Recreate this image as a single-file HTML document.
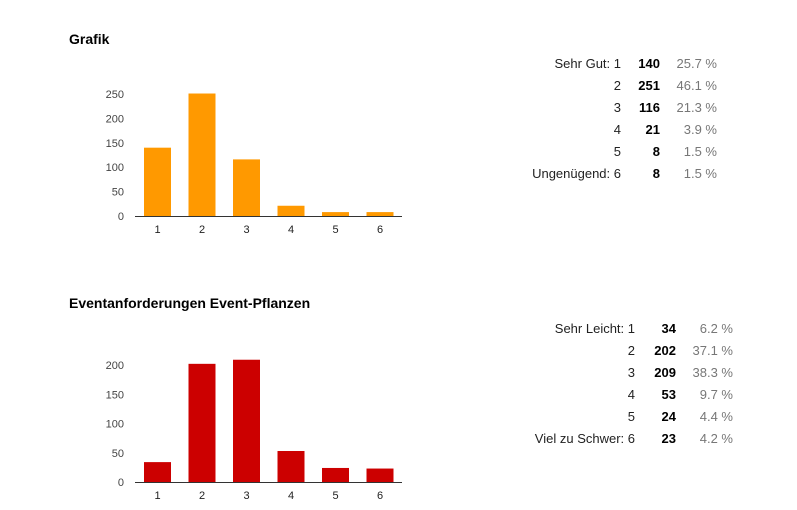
<!DOCTYPE html>
<html><head><meta charset="utf-8">
<style>
body{margin:0;background:#fff;width:797px;height:510px;overflow:hidden;font-family:"Liberation Sans",Arial,sans-serif;}
svg{position:absolute;left:0;top:0}
</style></head>
<body>
<svg id="c" width="797" height="510" xmlns="http://www.w3.org/2000/svg"></svg>
<script>
const categories = ["1","2","3","4","5","6"];
const gradeCounts = [140,251,116,21,8,8];
const gradePercents = ["25.7 %","46.1 %","21.3 %","3.9 %","1.5 %","1.5 %"];
const gradeLabels = ["Sehr Gut: 1","2","3","4","5","Ungenügend: 6"];
const gradeTicks = [0,50,100,150,200,250];
const eventCounts = [34,202,209,53,24,23];
const eventPercents = ["6.2 %","37.1 %","38.3 %","9.7 %","4.4 %","4.2 %"];
const eventLabels = ["Sehr Leicht: 1","2","3","4","5","Viel zu Schwer: 6"];
const eventTicks = [0,50,100,150,200];

const svg = document.getElementById('c');
const NS = 'http://www.w3.org/2000/svg';
function mk(tag, attrs, text){
  const e = document.createElementNS(NS, tag);
  for (const k in attrs) e.setAttribute(k, attrs[k]);
  if (text !== undefined) e.textContent = text;
  svg.appendChild(e);
  return e;
}

function chart(prefix, title, titleY, counts, ticks, baseY, topVal, topY, color, labels, percents, rowY, labelX, countX, pctX){
  const t = mk('text',{x:69,y:titleY,'font-size':14,'font-weight':'bold',fill:'#000'},title);
  
  
  const yScale = v => baseY - v*(baseY-topY)/topVal;
  const xScale = i => 144 + i*44.5;
  ticks.forEach(v=>{
    const tl = mk('text',{x:124,y:yScale(v)+4,'font-size':11,'text-anchor':'end',fill:'#444'},String(v));
    
    
  });
  counts.forEach((v,i)=>{
    const b = mk('rect',{x:xScale(i),y:yScale(v),width:27,height:baseY-yScale(v),fill:color});
    
    
    const xl = mk('text',{x:xScale(i)+13.5,y:baseY+17,'font-size':11,'text-anchor':'middle',fill:'#222'},categories[i]);
    
    
  });
  const ax = mk('line',{x1:135,x2:402,y1:baseY+0.5,y2:baseY+0.5,stroke:'#333','stroke-width':1});
  
  
  labels.forEach((l,i)=>{
    const y = rowY + i*22;
    const a = mk('text',{x:labelX,y:y,'font-size':13,'text-anchor':'end',fill:'#222'},l);
    
    
    const c = mk('text',{x:countX,y:y,'font-size':13,'font-weight':'bold','text-anchor':'end',fill:'#000'},String(counts[i]));
    
    
    const p = mk('text',{x:pctX,y:y,'font-size':13,'text-anchor':'end',fill:'#777'},percents[i]);
    
    
  });
}
chart('grafik','Grafik',44,gradeCounts,gradeTicks,216,250,94,'#ff9900',gradeLabels,gradePercents,68,621,660,717);
chart('event','Eventanforderungen Event-Pflanzen',308,eventCounts,eventTicks,482,200,365,'#cc0000',eventLabels,eventPercents,333,635,676,733);
</script>
</body></html>
